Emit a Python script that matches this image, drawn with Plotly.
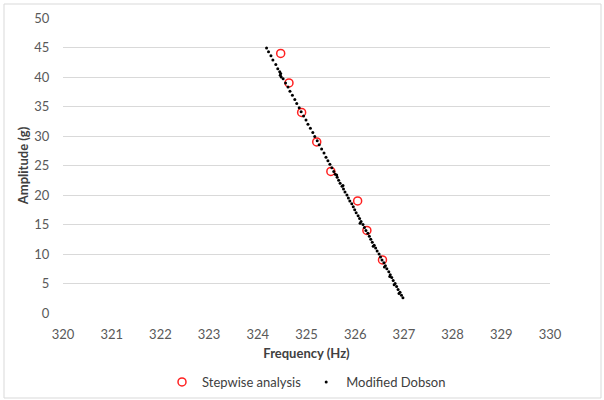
import plotly.graph_objects as go

# Stepwise analysis (red open circles)
step_freq = [324.47, 324.64, 324.90, 325.21, 325.50, 326.05, 326.24, 326.56]
step_amp = [44, 39, 34, 29, 24, 19, 14, 9]

# Modified Dobson (small black dots)
dob_freq = [324.18, 324.22, 324.27, 324.31, 324.37, 324.41, 324.45, 324.47, 324.46, 324.48,
            324.52, 324.57, 324.62, 324.66, 324.71, 324.76, 324.80, 324.85, 324.89, 324.94,
            324.99, 325.03, 325.08, 325.13, 325.17, 325.22, 325.26, 325.31, 325.36, 325.40,
            325.44, 325.48, 325.52, 325.56, 325.59, 325.63, 325.66, 325.69, 325.73, 325.76,
            325.79, 325.83, 325.86, 325.89, 325.93, 325.96, 325.99, 326.02, 326.06, 326.09,
            326.12, 326.16, 326.19, 326.22, 326.26, 326.29, 326.32, 326.35, 326.39, 326.42,
            326.45, 326.49, 326.52, 326.55, 326.59, 326.62, 326.65, 326.69, 326.72, 326.75,
            326.78, 326.82, 326.85, 326.88, 326.92, 326.95, 326.98,
            325.62, 325.75, 326.10, 326.37, 326.60, 326.71, 326.80, 326.90]
dob_amp = [44.9, 44.3, 43.6, 42.9, 42.1, 41.4, 40.9, 40.6, 40.3, 40.0,
           39.7, 39.0, 38.3, 37.6, 36.9, 36.2, 35.5, 34.8, 34.1, 33.4,
           32.7, 32.0, 31.3, 30.6, 29.9, 29.2, 28.5, 27.8, 27.1, 26.4,
           25.8, 25.2, 24.6, 24.0, 23.5, 23.0, 22.5, 22.0, 21.5, 21.0,
           20.5, 20.0, 19.5, 19.0, 18.5, 18.0, 17.5, 17.0, 16.5, 16.0,
           15.5, 15.0, 14.5, 14.0, 13.5, 13.0, 12.5, 12.0, 11.5, 11.0,
           10.5, 10.0, 9.5, 9.0, 8.5, 8.0, 7.5, 7.0, 6.5, 6.0,
           5.5, 5.0, 4.5, 4.0, 3.5, 3.0, 2.6,
           23.4, 21.6, 15.2, 11.3, 7.8, 6.2, 4.8, 3.3]

x_ticks = list(range(320, 331))
y_ticks = list(range(0, 51, 5))

fig = go.Figure()
fig.add_trace(go.Scatter(
    x=step_freq, y=step_amp, mode="markers", name="Stepwise analysis",
    marker=dict(symbol="circle-open", size=8, color="#ff2020", line=dict(width=1.5, color="#ff2020")),
))
fig.add_trace(go.Scatter(
    x=dob_freq, y=dob_amp, mode="markers", name="Modified Dobson",
    marker=dict(symbol="circle", size=3, color="black"),
))

L, R, T, B = 63, 54, 18, 87
pw, ph = 604 - L - R, 400 - T - B

fig.update_layout(
    width=604, height=400,
    margin=dict(l=L, r=R, t=T, b=B, autoexpand=False),
    paper_bgcolor="white", plot_bgcolor="white",
    font=dict(family="Lato, Open Sans, sans-serif", size=13, color="#595959"),
    showlegend=True,
    legend=dict(orientation="h", x=0.5, xanchor="center", y=(313 - 382) / ph, yanchor="middle",
                font=dict(size=13, color="#404040"), bgcolor="rgba(0,0,0,0)",
                tracegroupgap=0),
    xaxis=dict(range=[320, 330], tickvals=x_ticks, ticktext=[str(v) for v in x_ticks],
               showgrid=False, zeroline=False, showline=False, ticks="outside", ticklen=9,
               tickcolor="rgba(0,0,0,0)",
               title=dict(text="<b>Frequency (Hz)</b>", font=dict(size=13, color="#404040"), standoff=8),
               tickfont=dict(size=13, color="#595959")),
    yaxis=dict(range=[0, 50], tickvals=y_ticks, ticktext=[str(v) for v in y_ticks],
               showgrid=True, gridcolor="#d9d9d9", gridwidth=1, zeroline=False, showline=False,
               ticks="outside", ticklen=10, tickcolor="rgba(0,0,0,0)",
               title=dict(text="<b>Amplitude (g)</b>", font=dict(size=13, color="#404040"), standoff=2),
               tickfont=dict(size=13, color="#595959")),
    shapes=[dict(type="rect", xref="paper", yref="paper",
                 x0=(4 - L) / pw, x1=(601 - L) / pw,
                 y0=(400 - B - 398) / ph, y1=(400 - B - 4) / ph,
                 line=dict(color="#d9d9d9", width=1), fillcolor="rgba(0,0,0,0)", layer="below")],
)

fig.write_html("out.html")
